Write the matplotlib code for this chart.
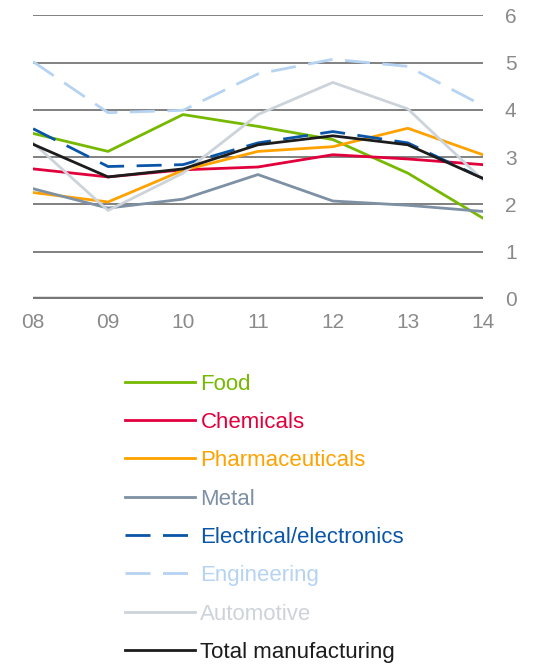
import matplotlib
matplotlib.use("Agg")
import matplotlib.pyplot as plt

plt.rcParams['font.family'] = ['Liberation Sans', 'DejaVu Sans']

years = ['08', '09', '10', '11', '12', '13', '14']

food = [3.50, 3.12, 3.90, 3.65, 3.37, 2.66, 1.71]
chemicals = [2.75, 2.58, 2.73, 2.79, 3.05, 2.96, 2.84]
pharma = [2.25, 2.05, 2.72, 3.12, 3.22, 3.61, 3.05]
metal = [2.33, 1.92, 2.11, 2.63, 2.07, 1.98, 1.85]
electrical = [3.60, 2.80, 2.84, 3.30, 3.54, 3.30, 2.55]
engineering = [5.02, 3.94, 3.99, 4.76, 5.07, 4.92, 4.09]
automotive = [3.30, 1.87, 2.66, 3.90, 4.58, 4.02, 2.52]
total = [3.27, 2.58, 2.75, 3.26, 3.45, 3.26, 2.55]

series = [
    ('Food', food, '#76b900', '-'),
    ('Chemicals', chemicals, '#e2003c', '-'),
    ('Pharmaceuticals', pharma, '#ffa200', '-'),
    ('Metal', metal, '#7d90a4', '-'),
    ('Electrical/electronics', electrical, '#0a55a8', (0, (9, 4.5))),
    ('Engineering', engineering, '#b6d3f2', (0, (9, 4.5))),
    ('Automotive', automotive, '#cdd3da', '-'),
    ('Total manufacturing', total, '#1c1c1c', '-'),
]

fig = plt.figure(figsize=(5.34, 6.67), dpi=100)
ax = fig.add_axes([0.062, 0.552, 0.842, 0.425])

x = list(range(len(years)))

# horizontal grid
for v in range(1, 7):
    ax.axhline(v, color='#5e5e5e', lw=1.1, zorder=1)
ax.axhline(0, color='#777777', lw=3.2, zorder=1)

# light lines first so the darker ones sit on top
draw_order = [5, 6, 3, 2, 1, 0, 4, 7]
handles = {}
for i in draw_order:
    name, vals, col, ls = series[i]
    ln, = ax.plot(x, vals, color=col, lw=2.0, ls=ls, label=name, zorder=2 + i)
    handles[i] = ln

ax.set_xlim(0, 6)
ax.set_ylim(0, 6)
ax.set_xticks(x)
ax.set_xticklabels(years)
ax.set_yticks(range(0, 7))
ax.yaxis.tick_right()
ax.tick_params(axis='both', length=0, labelsize=15, colors='#8a8a8a')
ax.tick_params(axis='x', pad=10)
ax.tick_params(axis='y', pad=16)
for s in ax.spines.values():
    s.set_visible(False)

leg = fig.legend([handles[i] for i in range(len(series))],
                 [s[0] for s in series],
                 loc='upper left', bbox_to_anchor=(0.235, 0.440),
                 frameon=False, fontsize=16, labelcolor='linecolor',
                 handlelength=3.15, handletextpad=0.22, labelspacing=0.78,
                 borderaxespad=0, borderpad=0)

fig.savefig('out.png', dpi=100)
